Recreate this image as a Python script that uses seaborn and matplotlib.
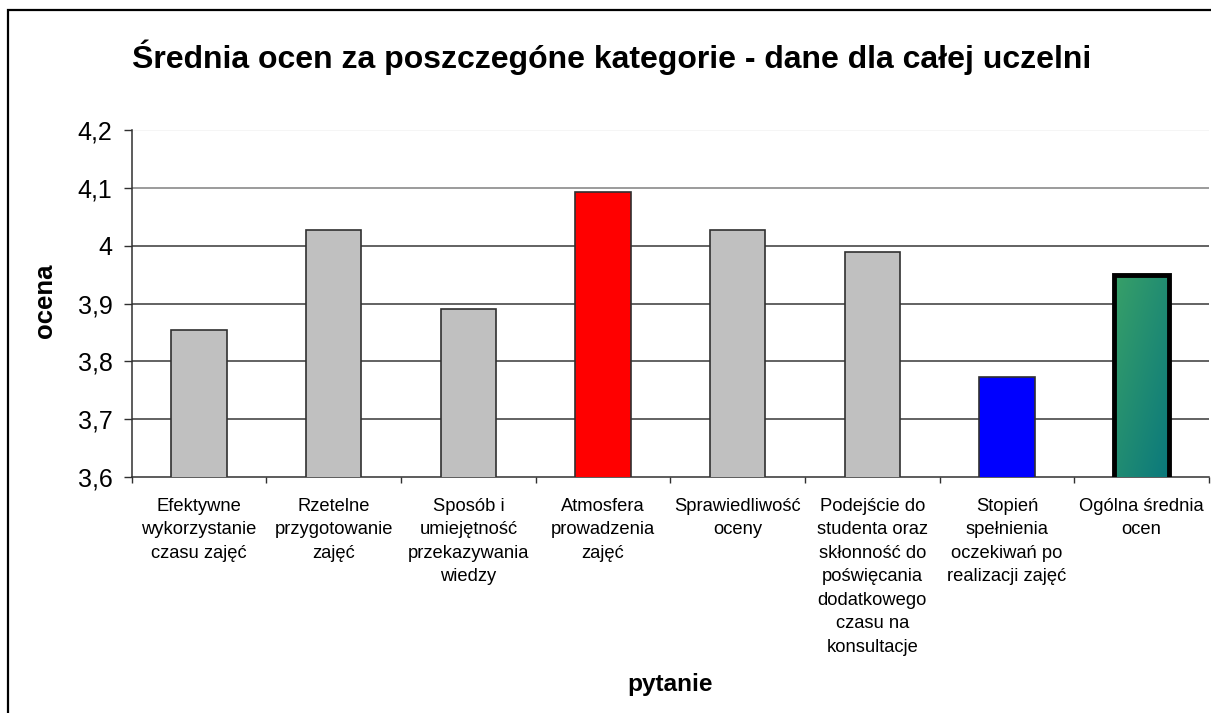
import numpy as np
import pandas as pd
import seaborn as sns
import matplotlib.pyplot as plt
from matplotlib.patches import Rectangle
from matplotlib.ticker import FuncFormatter, FixedLocator

# ====================== DATA ======================
categories = [
    "Efektywne\nwykorzystanie\nczasu zajęć",
    "Rzetelne\nprzygotowanie\nzajęć",
    "Sposób i\numiejętność\nprzekazywania\nwiedzy",
    "Atmosfera\nprowadzenia\nzajęć",
    "Sprawiedliwość\noceny",
    "Podejście do\nstudenta oraz\nskłonność do\npoświęcania\ndodatkowego\nczasu na\nkonsultacje",
    "Stopień\nspełnienia\noczekiwań po\nrealizacji zajęć",
    "Ogólna średnia\nocen",
]
scores = [3.855, 4.027, 3.891, 4.092, 4.027, 3.989, 3.773, 3.950]
bar_colors = ["#C0C0C0", "#C0C0C0", "#C0C0C0", "#FF0000", "#C0C0C0", "#C0C0C0", "#0000FF", "#2A8F72"]
y_ticks = [3.6, 3.7, 3.8, 3.9, 4.0, 4.1, 4.2]

TITLE = "Średnia ocen za poszczegóne kategorie - dane dla całej uczelni"

sns.set_style("white")
plt.rcParams['font.family'] = ['Liberation Sans', 'DejaVu Sans']
plt.rcParams['text.color'] = 'black'
plt.rcParams['axes.labelcolor'] = 'black'
plt.rcParams['xtick.color'] = 'black'
plt.rcParams['ytick.color'] = 'black'

df = pd.DataFrame({"pytanie": categories, "ocena": scores})

W, H = 1211, 713
fig = plt.figure(figsize=(W / 100, H / 100), dpi=100)
ax = fig.add_axes([131.7 / W, 1 - 477 / H, (1209 - 131.7) / W, (477 - 130) / H])

sns.barplot(data=df, x="pytanie", y="ocena", hue="pytanie", palette=bar_colors,
            legend=False, width=0.41, edgecolor="#303030", linewidth=1.2,
            saturation=1, ax=ax, zorder=3)

# gradient fill for the overall average bar
last = ax.patches[-1]
last.set_linewidth(3.5)
last.set_edgecolor("black")
x0 = last.get_x()
x1 = x0 + last.get_width()
c_tl = np.array([0x38, 0xA0, 0x68]) / 255
c_br = np.array([0x0A, 0x78, 0x7C]) / 255
n = 64
u = np.linspace(0, 1, n)
t = (u[None, :] + u[:, None]) / 2
grad = c_tl[None, None, :] * (1 - t[..., None]) + c_br[None, None, :] * t[..., None]
img = ax.imshow(grad, extent=[x0, x1, 3.6, scores[-1]], origin="upper",
                aspect="auto", interpolation="bilinear", zorder=3.5)
img.set_clip_path(last)
last.set_zorder(4)
last.set_facecolor("none")
ax.set_ylim(3.6, 4.2)
ax.set_xlim(-0.5, len(categories) - 0.5)

# grid (top line almost invisible, like the original)
ax.set_yticks(y_ticks)
ax.yaxis.set_major_formatter(FuncFormatter(lambda v, p: f"{v:g}".replace(".", ",")))
grid_colors = {4.2: "#F2F2F2", 4.1: "#808080"}
for v in y_ticks[1:]:
    ax.axhline(v, color=grid_colors.get(round(v, 1), "#383838"), lw=1.1, zorder=1)

for s in ["top", "right"]:
    ax.spines[s].set_visible(False)
for s in ["left", "bottom"]:
    ax.spines[s].set_color("#303030")
    ax.spines[s].set_linewidth(1.1)

ax.tick_params(axis="y", direction="out", length=5.8, width=1, color="#303030",
               labelsize=18, pad=8, left=True)
ax.tick_params(axis="x", which="major", length=0, labelsize=13.2, pad=15)
ax.xaxis.set_minor_locator(FixedLocator(np.arange(-0.5, len(categories), 1)))
ax.tick_params(axis="x", which="minor", direction="out", length=4, width=1,
               color="#303030", bottom=True)
for lab in ax.get_xticklabels():
    lab.set_linespacing(1.5)
    lab.set_verticalalignment("top")

ax.set_xlabel("pytanie", fontsize=17.6, fontweight="bold")
ax.xaxis.set_label_coords(0.5, (477 - 685) / (477 - 130), transform=ax.transAxes)
ax.xaxis.label.set_verticalalignment("center")
ax.set_ylabel("ocena", fontsize=18.5, fontweight="bold")
ax.yaxis.set_label_coords((45 - 131.7) / (1209 - 131.7), (477 - 301) / (477 - 130))
ax.yaxis.label.set_verticalalignment("center")

fig.text(612 / W, 1 - 57 / H, TITLE, fontsize=23, fontweight="bold",
         ha="center", va="center")

# outer chart frame
fig.patches.append(Rectangle((8 / W, -0.05), 1.1, 1 - 10 / H + 0.05, transform=fig.transFigure,
                             fill=False, edgecolor="black", lw=1.6, zorder=10))

plt.savefig("out.png", dpi=100)
